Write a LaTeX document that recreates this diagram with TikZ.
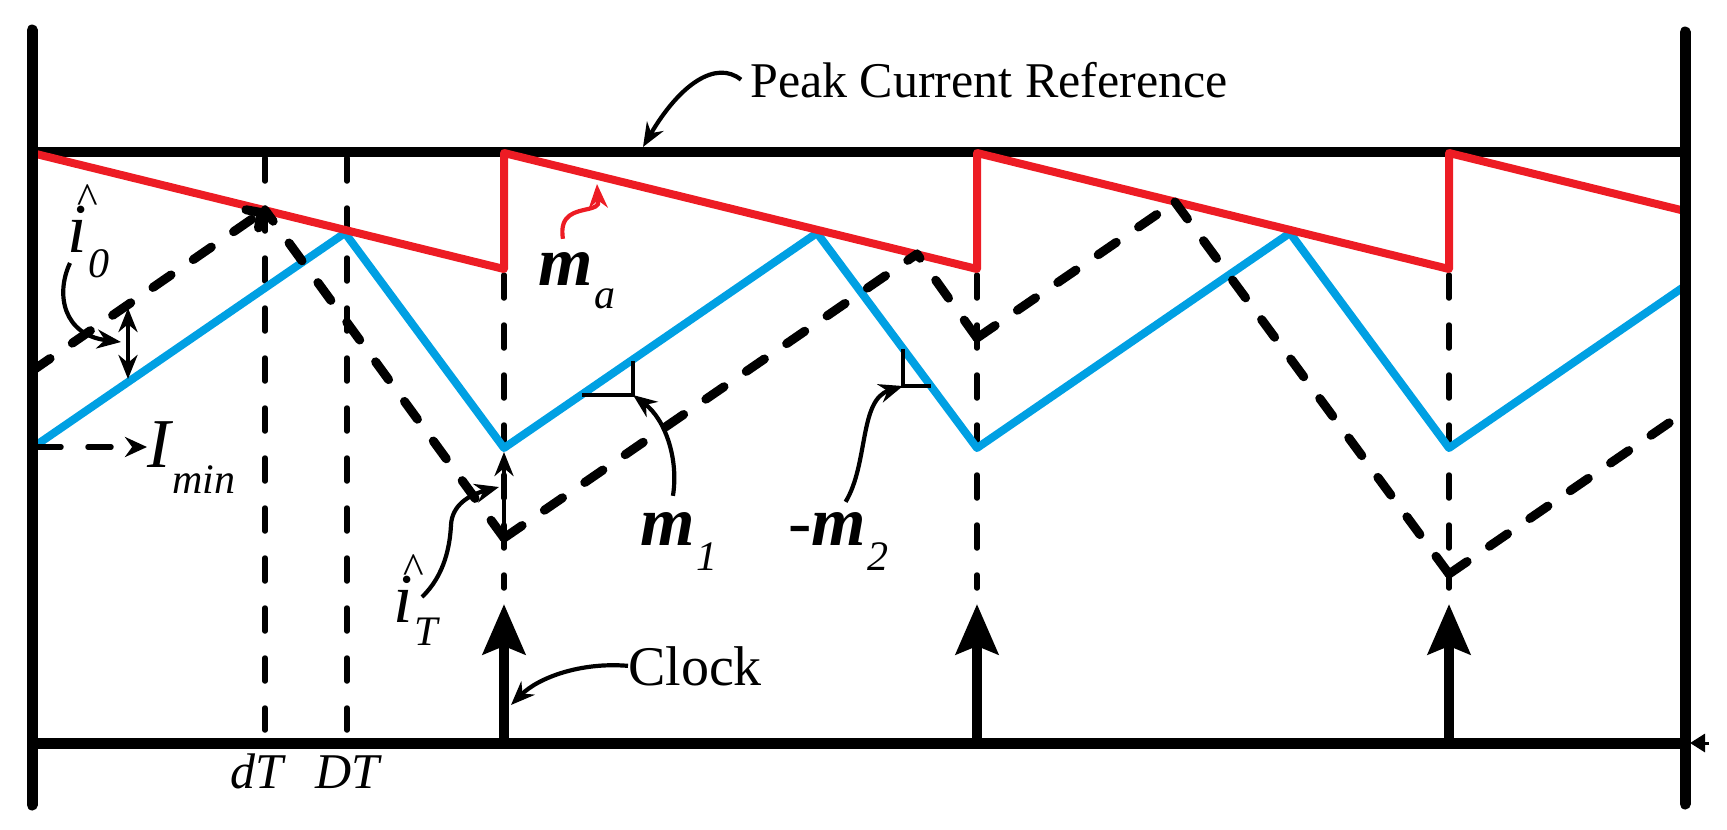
\documentclass[tikz,border=0pt]{standalone}
\usepackage{fontspec}
\setmainfont{Liberation Serif}
\usepackage{xcolor}
\usetikzlibrary{positioning, arrows.meta}

\definecolor{refred}{RGB}{237,28,36}
\definecolor{ilblue}{RGB}{0,160,227}

\newcommand{\sublab}[2]{\kern2pt\raisebox{-#1}{\fontsize{42}{42}\selectfont #2}}
\newcommand{\hati}{i\llap{\raisebox{39pt}{\fontsize{44}{44}\selectfont\textasciicircum}\kern-8pt}}

\begin{document}
\begin{tikzpicture}[x=1pt, y=-1pt,
        frameline/.style={line width=11pt, line cap=round},
        gridline/.style={line width=5.5pt, line cap=round, dash pattern=on 23pt off 27pt},
        trajline/.style={line width=9pt, line cap=round, dash pattern=on 22pt off 27pt},
        wave/.style={line width=8pt, line join=round},
        slopemark/.style={line width=4pt},
        callout/.style={line width=4.2pt, -{Stealth[length=24pt, width=19pt]}},
        clockarrow/.style={line width=10pt, -{Stealth[length=50pt, width=42pt, inset=8pt]}},
        sizearrow/.style={line width=4.2pt, {Stealth[length=24pt, width=19pt]}-{Stealth[length=24pt, width=19pt]}},
        lab/.style={inner sep=0pt, anchor=base west, font=\fontsize{70}{70}\selectfont\itshape},
        axlab/.style={inner sep=0pt, anchor=base, font=\fontsize{50}{50}\selectfont\itshape},
        txt/.style={inner sep=0pt, anchor=base west, font=\fontsize{50}{50}\selectfont}]
    \useasboundingbox (0,0) rectangle (1727,830);

    % --- Frame: reference level and time axis ---
    \coordinate (tl) at (32,152); \coordinate (tr) at (1685,152);
    \coordinate (bl) at (32,743); \coordinate (br) at (1685,743);
    \draw[frameline, line width=10pt, line cap=butt] (tl) -- (tr);
    \draw[frameline, line cap=butt] (bl) -- (br);

    % dT and DT markers
    \foreach \x in {265, 347} \draw[gridline] (\x,158) -- (\x,730);
    \node[axlab] (dT) at (257,788) {dT};
    \node[axlab] (DT) at (347,788) {DT};

    % --- Clock pulses ---
    \foreach \x [count=\k] in {504, 977, 1449} {
        \draw[gridline] (\x,275) -- (\x,588);
        \coordinate (ck\k) at (\x,743);
        \coordinate (cktip\k) at (\x,604);
        \draw[clockarrow] (ck\k) -- (cktip\k);
    }

    % --- Waveforms ---
    % steady state inductor current
    \draw[wave, ilblue] (32,448) -- (345,233) -- (504,448) -- (817,233) -- (977,448)
        -- (1290,233) -- (1449,448) -- (1685,286);
    % peak current reference minus ramp
    \draw[wave, refred] (32,153) -- (504,269) -- (504,153) -- (977,269) -- (977,153)
        -- (1449,269) -- (1449,153) -- (1685,211);

    % perturbed current
    \coordinate (p0) at (32,371);
    \coordinate (p1) at (265,210);
    \coordinate (v1) at (504,538);
    \coordinate (p2) at (917,254);
    \coordinate (v2) at (977,338);
    \coordinate (p3) at (1175,202);
    \coordinate (v3) at (1449,574);
    \coordinate (pend) at (1682,414);
    \draw[trajline, -{Straight Barb[length=11pt, width=22pt, round]}] (p0) -- (p1);
    \foreach \a/\b in {v1/p1, v1/p2, v2/p2, v2/p3, v3/p3, v3/pend}
        \draw[trajline] (\a) -- (\b);

    % --- Perturbation sizes ---
    \coordinate (i0top) at (128,308);
    \coordinate (i0bot) at (128,379);
    \draw[sizearrow] (i0top) -- (i0bot);
    \coordinate (blmin) at (504,452);
    \draw[line width=4.2pt, -{Stealth[length=24pt, width=19pt]}] (v1) -- (blmin);

    % --- Slope marks ---
    \coordinate (m1foot) at (582,395); \coordinate (m1corner) at (633,395); \coordinate (m1top) at (633,361);
    \draw[slopemark] (m1foot) -- (m1corner) -- (m1top);
    \coordinate (m2top) at (903,349); \coordinate (m2corner) at (903,386); \coordinate (m2foot) at (931,386);
    \draw[slopemark] (m2top) -- (m2corner) -- (m2foot);

    % --- Labels ---
    \node[txt] (peak) at (750,97) {Peak Current Reference};
    \coordinate (peaktip) at (643,147);
    \draw[callout] ([xshift=-9pt]peak.west) .. controls +(-25,-20) and +(37,-63) .. (peaktip);

    \node[txt, font=\fontsize{56}{56}\selectfont] (clock) at (628,685) {Clock};
    \coordinate (clocktip) at (511,705);
    \draw[callout] (clock.west) .. controls +(-48,-4) and +(27,-27) .. (clocktip);

    \node[lab] (imin) at (147,467) {I\sublab{26pt}{min}};
    \coordinate (iminfrom) at (38,447);
    \draw[gridline, -{Stealth[length=22pt, width=20pt]}] (iminfrom) -- (iminfrom -| imin.west);

    \node[lab] (i0) at (67,252) {\hati\sublab{25pt}{0}};
    \coordinate (i0tip) at (121,342);
    \draw[callout] ([shift={(3pt,-11pt)}]i0.base west) .. controls +(-15,32) and +(-57,-7) .. (i0tip);

    \node[lab] (iT) at (393,622) {\hati\sublab{23pt}{T}};
    \coordinate (iTtip) at (499,487);
    \draw[callout] ([shift={(29pt,25pt)}]iT.base west) .. controls +(23,-22) and +(-1,20) .. ++(29,-72)
        .. controls +(1,-20) and +(-30,8) .. (iTtip);

    \node[lab] (m1) at (640,545) {\textbf{m}\sublab{25pt}{1}};
    \draw[callout] ([xshift=-6pt, yshift=16pt]m1.north) .. controls +(6,-37) and +(32,24) .. (m1corner);

    \node[lab] (m2) at (788,545) {-\textbf{m}\sublab{25pt}{2}};
    \draw[callout] ([xshift=7pt, yshift=10pt]m2.north) .. controls +(23,-38) and +(-44,14) .. (m2corner);

    \node[lab] (ma) at (538,285) {\textbf{m}\sublab{23pt}{a}};
    \coordinate (matip) at (597,184);
    \draw[callout, refred] ([xshift=-14pt, yshift=13pt]ma.north) .. controls +(-4,-25) and +(-13,3) .. ++(26,-30)
        .. controls +(12,-3) and +(1,19) .. (matip);

    % --- Side bars ---
    \coordinate (axtail) at (1709,743);
    \draw[line width=3pt, -{Triangle[length=15pt, width=18pt]}] (axtail) -- ([xshift=5pt]br);
    \draw[frameline] (32,30) -- (32,805);
    \draw[frameline] (1685,32) -- (1685,804);
\end{tikzpicture}
\end{document}
